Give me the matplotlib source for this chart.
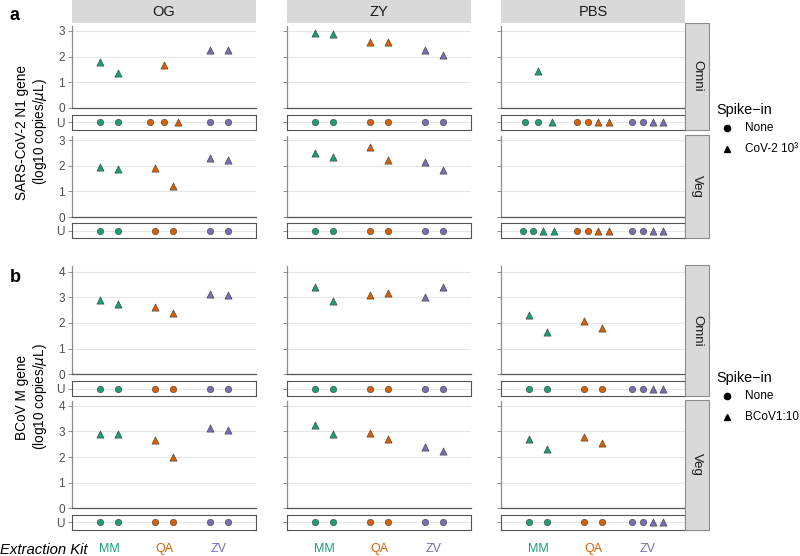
import numpy as np
import matplotlib.pyplot as plt
from matplotlib.patches import Rectangle

plt.rcParams['font.family'] = ['Liberation Sans', 'DejaVu Sans']

columns = ["OG", "ZY", "PBS"]
kits = ["MM", "QA", "ZV"]
matrices = ["Omni", "Veg"]
kit_colors = ["#1B9E77", "#D95F02", "#7570B3"]

# detected values (log10 copies/uL): column -> kit -> replicates
n1_omni = [[[1.78, 1.36], [1.68], [2.25, 2.27]],
           [[2.90, 2.87], [2.55, 2.57], [2.25, 2.06]],
           [[1.44], [], []]]
n1_veg = [[[1.97, 1.86], [1.92, 1.22], [2.29, 2.23]],
          [[2.50, 2.33], [2.75, 2.21], [2.13, 1.84]],
          [[], [], []]]
bcov_omni = [[[2.88, 2.74], [2.62, 2.38], [3.13, 3.09]],
             [[3.39, 2.86], [3.09, 3.16], [3.01, 3.42]],
             [[2.30, 1.64], [2.09, 1.82], []]]
bcov_veg = [[[2.91, 2.91], [2.67, 1.99], [3.14, 3.05]],
            [[3.25, 2.89], [2.93, 2.69], [2.38, 2.23]],
            [[2.72, 2.33], [2.79, 2.56], []]]

# undetected samples on the U strip: 0 = no spike, 1 = spiked
n1_omni_u = [[[0, 0], [0, 0, 1], [0, 0]],
             [[0, 0], [0, 0], [0, 0]],
             [[0, 0, 1], [0, 0, 1, 1], [0, 0, 1, 1]]]
n1_veg_u = [[[0, 0], [0, 0], [0, 0]],
            [[0, 0], [0, 0], [0, 0]],
            [[0, 0, 1, 1], [0, 0, 1, 1], [0, 0, 1, 1]]]
bcov_omni_u = [[[0, 0], [0, 0], [0, 0]],
               [[0, 0], [0, 0], [0, 0]],
               [[0, 0], [0, 0], [0, 0, 1, 1]]]
bcov_veg_u = [[[0, 0], [0, 0], [0, 0]],
              [[0, 0], [0, 0], [0, 0]],
              [[0, 0], [0, 0], [0, 0, 1, 1]]]

W, H = 800, 556
fig = plt.figure(figsize=(8, 5.56), dpi=100)


def ax_px(x, y, w, h):
    return fig.add_axes([x / W, 1 - (y + h) / H, w / W, h / H])


col_x = [72, 287, 501]
col_w = 184
spacing = {0: 0, 1: 0, 2: 0.32, 3: 0.25, 4: 0.19}
tick_col = "#4D4D4D"
edge = "#3A3A3A"


def dodge(k, n):
    return [k + 1 + (i - (n - 1) / 2) * spacing[n] for i in range(n)]


def style_common(ax, first):
    ax.set_xlim(0.32, 3.68)
    ax.set_xticks([])
    ax.tick_params(axis='y', length=3, width=0.6, color="#7F7F7F",
                   labelsize=8.5, labelcolor=tick_col, pad=2)
    if not first:
        ax.tick_params(axis='y', labelleft=False)
    ax.grid(axis='y', color="#E6E6E6", lw=0.8)
    ax.set_axisbelow(True)


def draw_data(ax, vals, ymax, first):
    for k, v in enumerate(vals):
        ax.scatter(dodge(k, len(v)), v, marker='^', s=27, c=kit_colors[k],
                   edgecolors=edge, linewidths=0.4, zorder=3, clip_on=False)
    style_common(ax, first)
    ax.set_ylim(0, ymax)
    ax.set_yticks(range(int(ymax) + 1))
    ax.spines[['top', 'right']].set_visible(False)
    ax.spines['left'].set_color("#8C8C8C")
    ax.spines['bottom'].set_color("#555555")
    ax.spines['left'].set_linewidth(0.9)
    ax.spines['bottom'].set_linewidth(0.9)


def draw_u(ax, flags, first, bottom=False):
    for k, f in enumerate(flags):
        xs = dodge(k, len(f))
        for x, s in zip(xs, f):
            ax.scatter([x], [0], marker='^' if s else 'o', s=27 if s else 21,
                       c=kit_colors[k], edgecolors=edge, linewidths=0.4, zorder=3)
    style_common(ax, first)
    ax.set_ylim(-1, 1)
    ax.set_yticks([0])
    ax.set_yticklabels(["U"])
    for sp in ax.spines.values():
        sp.set_color("#555555")
        sp.set_linewidth(0.8)
    if bottom:
        ax.set_xticks([1, 2, 3])
        ax.set_xticklabels(kits, fontsize=9)
        ax.tick_params(axis='x', length=0, pad=10)
        for lab, c in zip(ax.get_xticklabels(), kit_colors):
            lab.set_color(c)


# rows: (data values, U flags, data top, data bottom, ymax, U top, U bottom)
rows = [
    (n1_omni, n1_omni_u, 26, 108, 3.19, 115, 129.5),
    (n1_veg, n1_veg_u, 136, 217, 3.16, 223, 238),
    (bcov_omni, bcov_omni_u, 266, 374.3, 4.22, 381, 396),
    (bcov_veg, bcov_veg_u, 401, 508.3, 4.19, 515, 529.5),
]

for r, (vals, flags, dt, db, ymax, ut, ub) in enumerate(rows):
    for c in range(3):
        ax = ax_px(col_x[c], dt, col_w, db - dt)
        draw_data(ax, vals[c], ymax, c == 0)
        axu = ax_px(col_x[c], ut, col_w, ub - ut)
        draw_u(axu, flags[c], c == 0, bottom=(r == 3))

# overlay for strips, labels and legends in pixel coordinates
ov = fig.add_axes([0, 0, 1, 1], zorder=10)
ov.set_xlim(0, W)
ov.set_ylim(H, 0)
ov.axis('off')

for c, name in enumerate(columns):
    ov.add_patch(Rectangle((col_x[c], 0), col_w, 23, facecolor="#D9D9D9", edgecolor='none'))
    ov.text(col_x[c] + col_w / 2, 12, name, ha='center', va='center', fontsize=10.5, color="#1A1A1A")

side = [(23, 129.5, "Omni"), (135, 238, "Veg"), (265, 396, "Omni"), (400, 529.5, "Veg")]
for top, bot, name in side:
    ov.add_patch(Rectangle((685, top), 24, bot - top, facecolor="#D9D9D9",
                           edgecolor="#8C8C8C", lw=0.8))
    ov.text(697, (top + bot) / 2, name, ha='center', va='center', rotation=270,
            fontsize=9.5, color="#1A1A1A")

ov.text(15, 15, "a", fontsize=13, fontweight='bold', ha='center', va='center')
ov.text(15, 277, "b", fontsize=13, fontweight='bold', ha='center', va='center')

ov.text(32, 132, "SARS-CoV-2 N1 gene\n(log10 copies/$\\mu$L)", rotation=90,
        ha='center', va='center', fontsize=9.8, linespacing=1.2)
ov.text(32, 397, "BCoV M gene\n(log10 copies/$\\mu$L)", rotation=90,
        ha='center', va='center', fontsize=9.8, linespacing=1.2)

ov.text(0, 550, "Extraction Kit", fontsize=10.7, style='italic', ha='left', va='center')

legends = [(110, ["None", "CoV-2 10³"]), (378, ["None", "BCoV1:10"])]
for ty, labels in legends:
    ov.text(716, ty, "Spike\u2212in", fontsize=10.4, ha='left', va='center')
    for i, (lab, m) in enumerate(zip(labels, ['o', '^'])):
        yy = ty + 18 + i * 21
        ov.plot([727], [yy], marker=m, color='black', markersize=4.5, ls='none')
        ov.text(745, yy, lab, fontsize=8.5, ha='left', va='center')

fig.savefig("out.png", dpi=100)
